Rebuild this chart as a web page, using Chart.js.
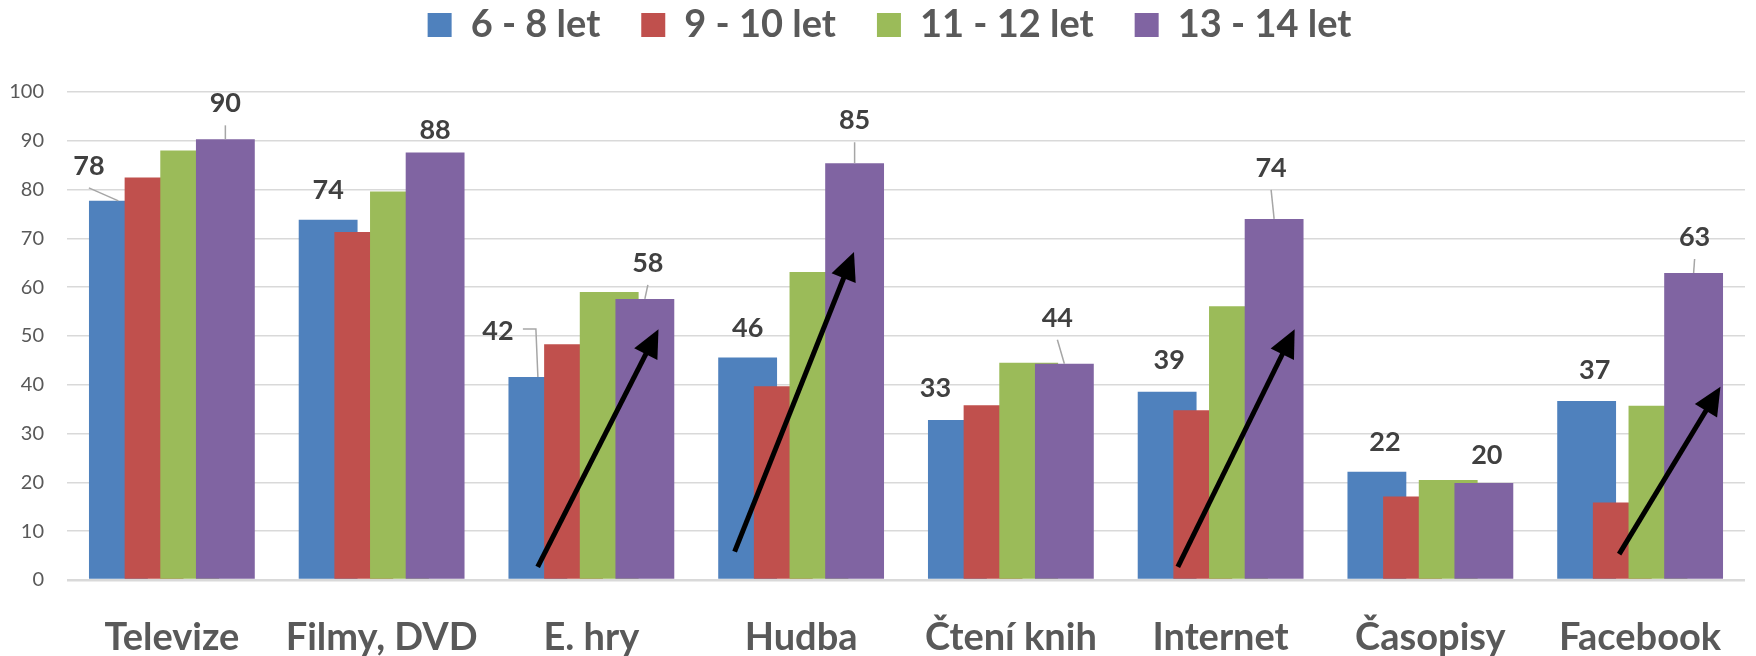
<!DOCTYPE html>
<html lang="cs">
<head>
<meta charset="utf-8">
<title>Volný čas dětí podle věku</title>
<script src="https://cdn.jsdelivr.net/npm/chart.js@4.4.1/dist/chart.umd.min.js"></script>
<style>
  html, body { margin: 0; padding: 0; background: #fff; }
  #wrap { width: 1756px; height: 656px; }
</style>
</head>
<body>
<div id="wrap"><canvas id="activityChart" width="1756" height="656"></canvas></div>
<script>
// ===== DATA =====
const categories = ['Televize', 'Filmy, DVD', 'E. hry', 'Hudba', 'Čtení knih', 'Internet', 'Časopisy', 'Facebook'];
const seriesNames = ['6 - 8 let', '9 - 10 let', '11 - 12 let', '13 - 14 let'];
const age6to8   = [77.7, 73.8, 41.6, 45.6, 32.8, 38.6, 22.2, 36.7];
const age9to10  = [82.5, 71.3, 48.3, 39.7, 35.8, 34.8, 17.1, 15.9];
const age11to12 = [88.0, 79.6, 59.0, 63.1, 44.5, 56.1, 20.5, 35.7];
const age13to14 = [90.3, 87.6, 57.6, 85.4, 44.3, 74.0, 19.9, 62.9];
const yTicks = [0, 10, 20, 30, 40, 50, 60, 70, 80, 90, 100];

// trend arrows: category index, start/end as [offset in category widths, value]
const trendArrows = [
	{ cat: 2, from: [-0.256, 2.7], to: [0.32, 51.4] },
	{ cat: 3, from: [-0.317, 5.8], to: [0.252, 67.2] },
	{ cat: 5, from: [-0.204, 2.7], to: [0.353, 51.4] },
	{ cat: 7, from: [-0.10, 5.3], to: [0.383, 39.6] }
];

// ===== STYLE =====
const colors = ['#4F81BD', '#C0504D', '#9BBB59', '#8064A2'];
const textGray = '#595959';
const labelGray = '#404040';

// value labels only on first and last series, nudged like the original
const labelNudges = {
	0: [[-29.5, 35, 'line'], [0, 30], [-40, 46, 'elbow'], [0, 29], [-22, 32], [2, 31], [8, 29], [8, 31]],
	3: [[0, 36, 'line'], [0, 22], [3, 36, 'line'], [0, 43, 'line'], [-7, 46, 'line'], [-3, 51, 'line'], [3, 28], [1, 36, 'line']]
};

function drawValueLabels(chart) {
	const ctx = chart.ctx;
	ctx.save();
	ctx.font = 'bold 27px Lato';
	ctx.textAlign = 'center';
	ctx.textBaseline = 'middle';
	Object.keys(labelNudges).forEach(key => {
		const s = Number(key);
		const meta = chart.getDatasetMeta(s);
		const values = chart.data.datasets[s].data;
		meta.data.forEach((bar, j) => {
			const n = labelNudges[s][j];
			const lx = bar.x + n[0];
			const ly = bar.y - n[1];
			if (n[2]) {
				ctx.strokeStyle = '#a6a6a6';
				ctx.lineWidth = 1.5;
				ctx.beginPath();
				if (n[2] === 'elbow') {
					ctx.moveTo(lx + 25, ly - 2);
					ctx.lineTo(bar.x - 2, ly - 2);
					ctx.lineTo(bar.x, bar.y);
				} else {
					ctx.moveTo(lx, ly + 22);
					ctx.lineTo(bar.x, bar.y);
				}
				ctx.stroke();
			}
			ctx.fillStyle = labelGray;
			ctx.fillText(String(Math.round(values[j])), lx, ly);
		});
	});
	ctx.restore();
}

function drawArrows(chart) {
	const ctx = chart.ctx;
	const xs = chart.scales.x;
	const ys = chart.scales.y;
	const catW = xs.width / categories.length;
	ctx.save();
	ctx.strokeStyle = '#000';
	ctx.fillStyle = '#000';
	ctx.lineWidth = 5;
	trendArrows.forEach(a => {
		const cx = xs.getPixelForValue(a.cat);
		const x1 = cx + a.from[0] * catW, y1 = ys.getPixelForValue(a.from[1]);
		const x2 = cx + a.to[0] * catW, y2 = ys.getPixelForValue(a.to[1]);
		const len = Math.hypot(x2 - x1, y2 - y1);
		const ux = (x2 - x1) / len, uy = (y2 - y1) / len;
		const headLen = 28, headHalf = 13;
		const bx = x2 - ux * headLen, by = y2 - uy * headLen;
		ctx.beginPath();
		ctx.moveTo(x1, y1);
		ctx.lineTo(bx + ux * 2, by + uy * 2);
		ctx.stroke();
		ctx.beginPath();
		ctx.moveTo(x2, y2);
		ctx.lineTo(bx - uy * headHalf, by + ux * headHalf);
		ctx.lineTo(bx + uy * headHalf, by - ux * headHalf);
		ctx.closePath();
		ctx.fill();
	});
	ctx.restore();
}

// later series drawn on top (overlapping bars like Excel)
const overlapDraw = {
	id: 'overlapDraw',
	beforeDatasetsDraw(chart) {
		for (let i = 0; i < chart.data.datasets.length; i++) {
			if (chart.isDatasetVisible(i)) chart.getDatasetMeta(i).controller.draw();
		}
		drawValueLabels(chart);
		drawArrows(chart);
		return false;
	}
};

// extra gap under the legend, legend a bit right of canvas centre
const legendTweak = {
	id: 'legendTweak',
	beforeInit(chart) {
		const fit = chart.legend.fit;
		chart.legend.fit = function() {
			fit.call(this);
			this.height += 38;
		};
	},
	afterLayout(chart) {
		chart.legend.left += 17;
		chart.legend.right += 17;
	}
};

// ===== CHART =====
const seriesData = [age6to8, age9to10, age11to12, age13to14];
const ctx = document.getElementById('activityChart').getContext('2d');

new Chart(ctx, {
	type: 'bar',
	data: {
		labels: categories,
		datasets: seriesNames.map((name, i) => ({
			label: name,
			data: seriesData[i],
			backgroundColor: colors[i],
			borderWidth: 0,
			categoryPercentage: 0.68,
			barPercentage: 1.65
		}))
	},
	options: {
		responsive: false,
		animation: false,
		layout: { padding: { top: -35, right: 11, left: 0, bottom: 0 } },
		plugins: {
			legend: {
				position: 'top',
				labels: {
					font: { family: 'Lato', size: 38, weight: 'bold' },
					color: textGray,
					boxWidth: 24,
					boxHeight: 24,
					padding: 41
				}
			},
			tooltip: { enabled: false }
		},
		scales: {
			x: {
				grid: { display: false },
				border: { display: false },
				ticks: {
					font: { family: 'Lato', size: 38, weight: 'bold' },
					color: textGray,
					padding: 27,
					autoSkip: false,
					maxRotation: 0
				},
				afterFit(scale) { scale.height = 76; }
			},
			y: {
				min: 0,
				max: 100,
				border: { display: false },
				grid: {
					color: '#d9d9d9',
					lineWidth: c => (c.tick && c.tick.value === 0 ? 2.5 : 1.5),
					drawTicks: false
				},
				ticks: {
					font: { family: 'Lato', size: 20 },
					color: textGray,
					padding: 23
				},
				afterBuildTicks(scale) { scale.ticks = yTicks.map(v => ({ value: v })); },
				afterFit(scale) { scale.width = 67; }
			}
		}
	},
	plugins: [overlapDraw, legendTweak]
});
</script>
</body>
</html>
